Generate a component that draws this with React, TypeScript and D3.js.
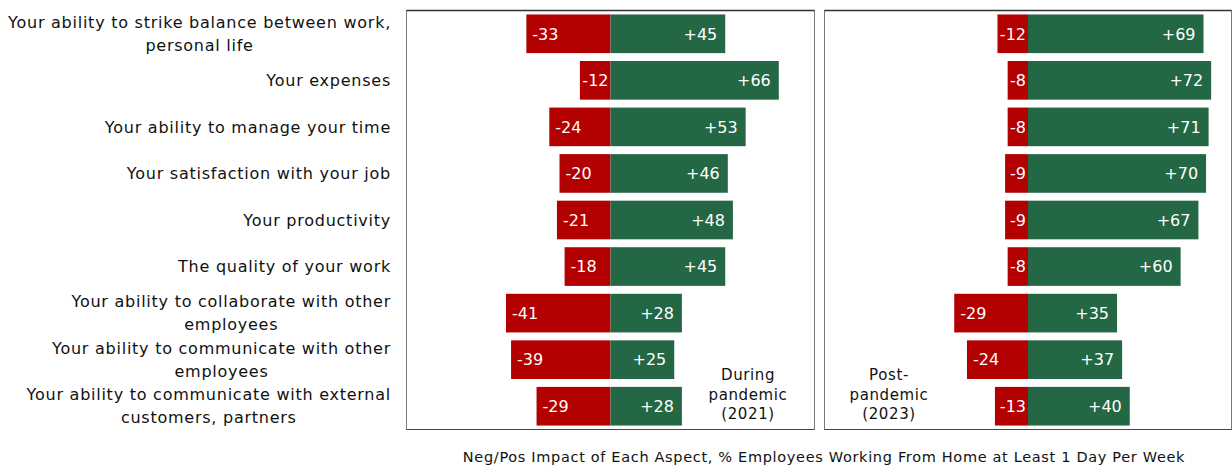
import React, { useEffect, useRef } from "react";
import * as d3 from "d3";

const categories = [
  "Your ability to strike balance between work,\npersonal life",
  "Your expenses",
  "Your ability to manage your time",
  "Your satisfaction with your job",
  "Your productivity",
  "The quality of your work",
  "Your ability to collaborate with other\nemployees",
  "Your ability to communicate with other\nemployees",
  "Your ability to communicate with external\ncustomers, partners",
];
const duringNeg = [-33, -12, -24, -20, -21, -18, -41, -39, -29];
const duringPos = [45, 66, 53, 46, 48, 45, 28, 25, 28];
const postNeg = [-12, -8, -8, -9, -9, -8, -29, -24, -13];
const postPos = [69, 72, 71, 70, 67, 60, 35, 37, 40];
const panelTitles = [["During", "pandemic", "(2021)"], ["Post-", "pandemic", "(2023)"]];
const axisTitle = "Neg/Pos Impact of Each Aspect, % Employees Working From Home at Least 1 Day Per Week";

const W = 1232;
const H = 465;
const FONT = "'DejaVu Sans', sans-serif";
const RED = "#B30000";
const GREEN = "#236744";

export default function App() {
  const ref = useRef<SVGSVGElement>(null);
  useEffect(() => {
    const svg = d3.select(ref.current);
    svg.selectAll("*").remove();
    const top = 10.5, bottom = 429.5;
    const y = d3.scaleBand<number>().domain(d3.range(categories.length)).range([top, bottom]).paddingInner(0.17).paddingOuter(0.085);

    // category labels
    const labelRight = 391;
    categories.forEach((c, i) => {
      const lines = c.split("\n");
      const cy = y(i)! + y.bandwidth() / 2;
      const lh = 23;
      const g = svg.append("g");
      const texts = lines.map((l, j) =>
        g.append("text")
          .attr("y", cy + (j - (lines.length - 1) / 2) * lh)
          .attr("dy", "0.36em")
          .attr("font-family", FONT).attr("font-size", 16).attr("letter-spacing", 0.75).attr("fill", "#111")
          .text(l)
      );
      const widths = texts.map((t) => (t.node() as SVGTextElement).getComputedTextLength());
      const maxW = d3.max(widths)!;
      texts.forEach((t) => t.attr("text-anchor", "middle").attr("x", labelRight - maxW / 2));
    });

    const panels = [
      { x0: 406.5, x1: 814.5, neg: duringNeg, pos: duringPos, title: panelTitles[0], tx: 748 },
      { x0: 824.5, x1: 1231.5, neg: postNeg, pos: postPos, title: panelTitles[1], tx: 889 },
    ];
    panels.forEach((p) => {
      const x = d3.scaleLinear().domain([-80, 80]).range([p.x0, p.x1]);
      const g = svg.append("g");
      g.append("rect").attr("x", p.x0).attr("y", top).attr("width", p.x1 - p.x0).attr("height", bottom - top)
        .attr("fill", "none").attr("stroke", "#7a7a7a").attr("stroke-width", 1);
      g.append("line").attr("x1", p.x0).attr("x2", p.x1).attr("y1", top).attr("y2", top).attr("stroke", "#333").attr("stroke-width", 1.5);
      g.append("line").attr("x1", p.x0).attr("x2", p.x1).attr("y1", bottom).attr("y2", bottom).attr("stroke", "#444").attr("stroke-width", 1.2);

      categories.forEach((_, i) => {
        const by = y(i)!;
        const bh = y.bandwidth();
        const n = p.neg[i], v = p.pos[i];
        g.append("rect").attr("x", x(n)).attr("y", by).attr("width", x(0) - x(n)).attr("height", bh).attr("fill", RED);
        g.append("rect").attr("x", x(0)).attr("y", by).attr("width", x(v) - x(0)).attr("height", bh).attr("fill", GREEN);
        const cy = by + bh / 2;
        const nt = g.append("text").attr("y", cy).attr("dy", "0.36em")
          .attr("font-family", FONT).attr("font-size", 16).attr("fill", "#fff").text(String(n));
        const nw = (nt.node() as SVGTextElement).getComputedTextLength();
        const nx = Math.min(x(n) + 6, x(0) - 2 - nw);
        nt.attr("x", nx);
        g.append("text").attr("x", x(v) - 8).attr("y", cy).attr("dy", "0.36em").attr("text-anchor", "end")
          .attr("font-family", FONT).attr("font-size", 16).attr("fill", "#fff").text("+" + v);
      });

      p.title.forEach((t, j) => {
        g.append("text").attr("x", p.tx).attr("y", 375 + j * 19.5).attr("dy", "0.36em").attr("text-anchor", "middle")
          .attr("font-family", FONT).attr("font-size", 15).attr("fill", "#111").attr("letter-spacing", 0.6).text(t);
      });
    });

    svg.append("text").attr("x", 824).attr("y", 457).attr("dy", "0.36em").attr("text-anchor", "middle")
      .attr("font-family", FONT).attr("font-size", 14.5).attr("fill", "#111").attr("letter-spacing", 0.67).text(axisTitle);
  }, []);
  return (
    <svg ref={ref} width={W} height={H} style={{ position: "absolute", left: 0, top: 0, background: "#fff" }} />
  );
}
